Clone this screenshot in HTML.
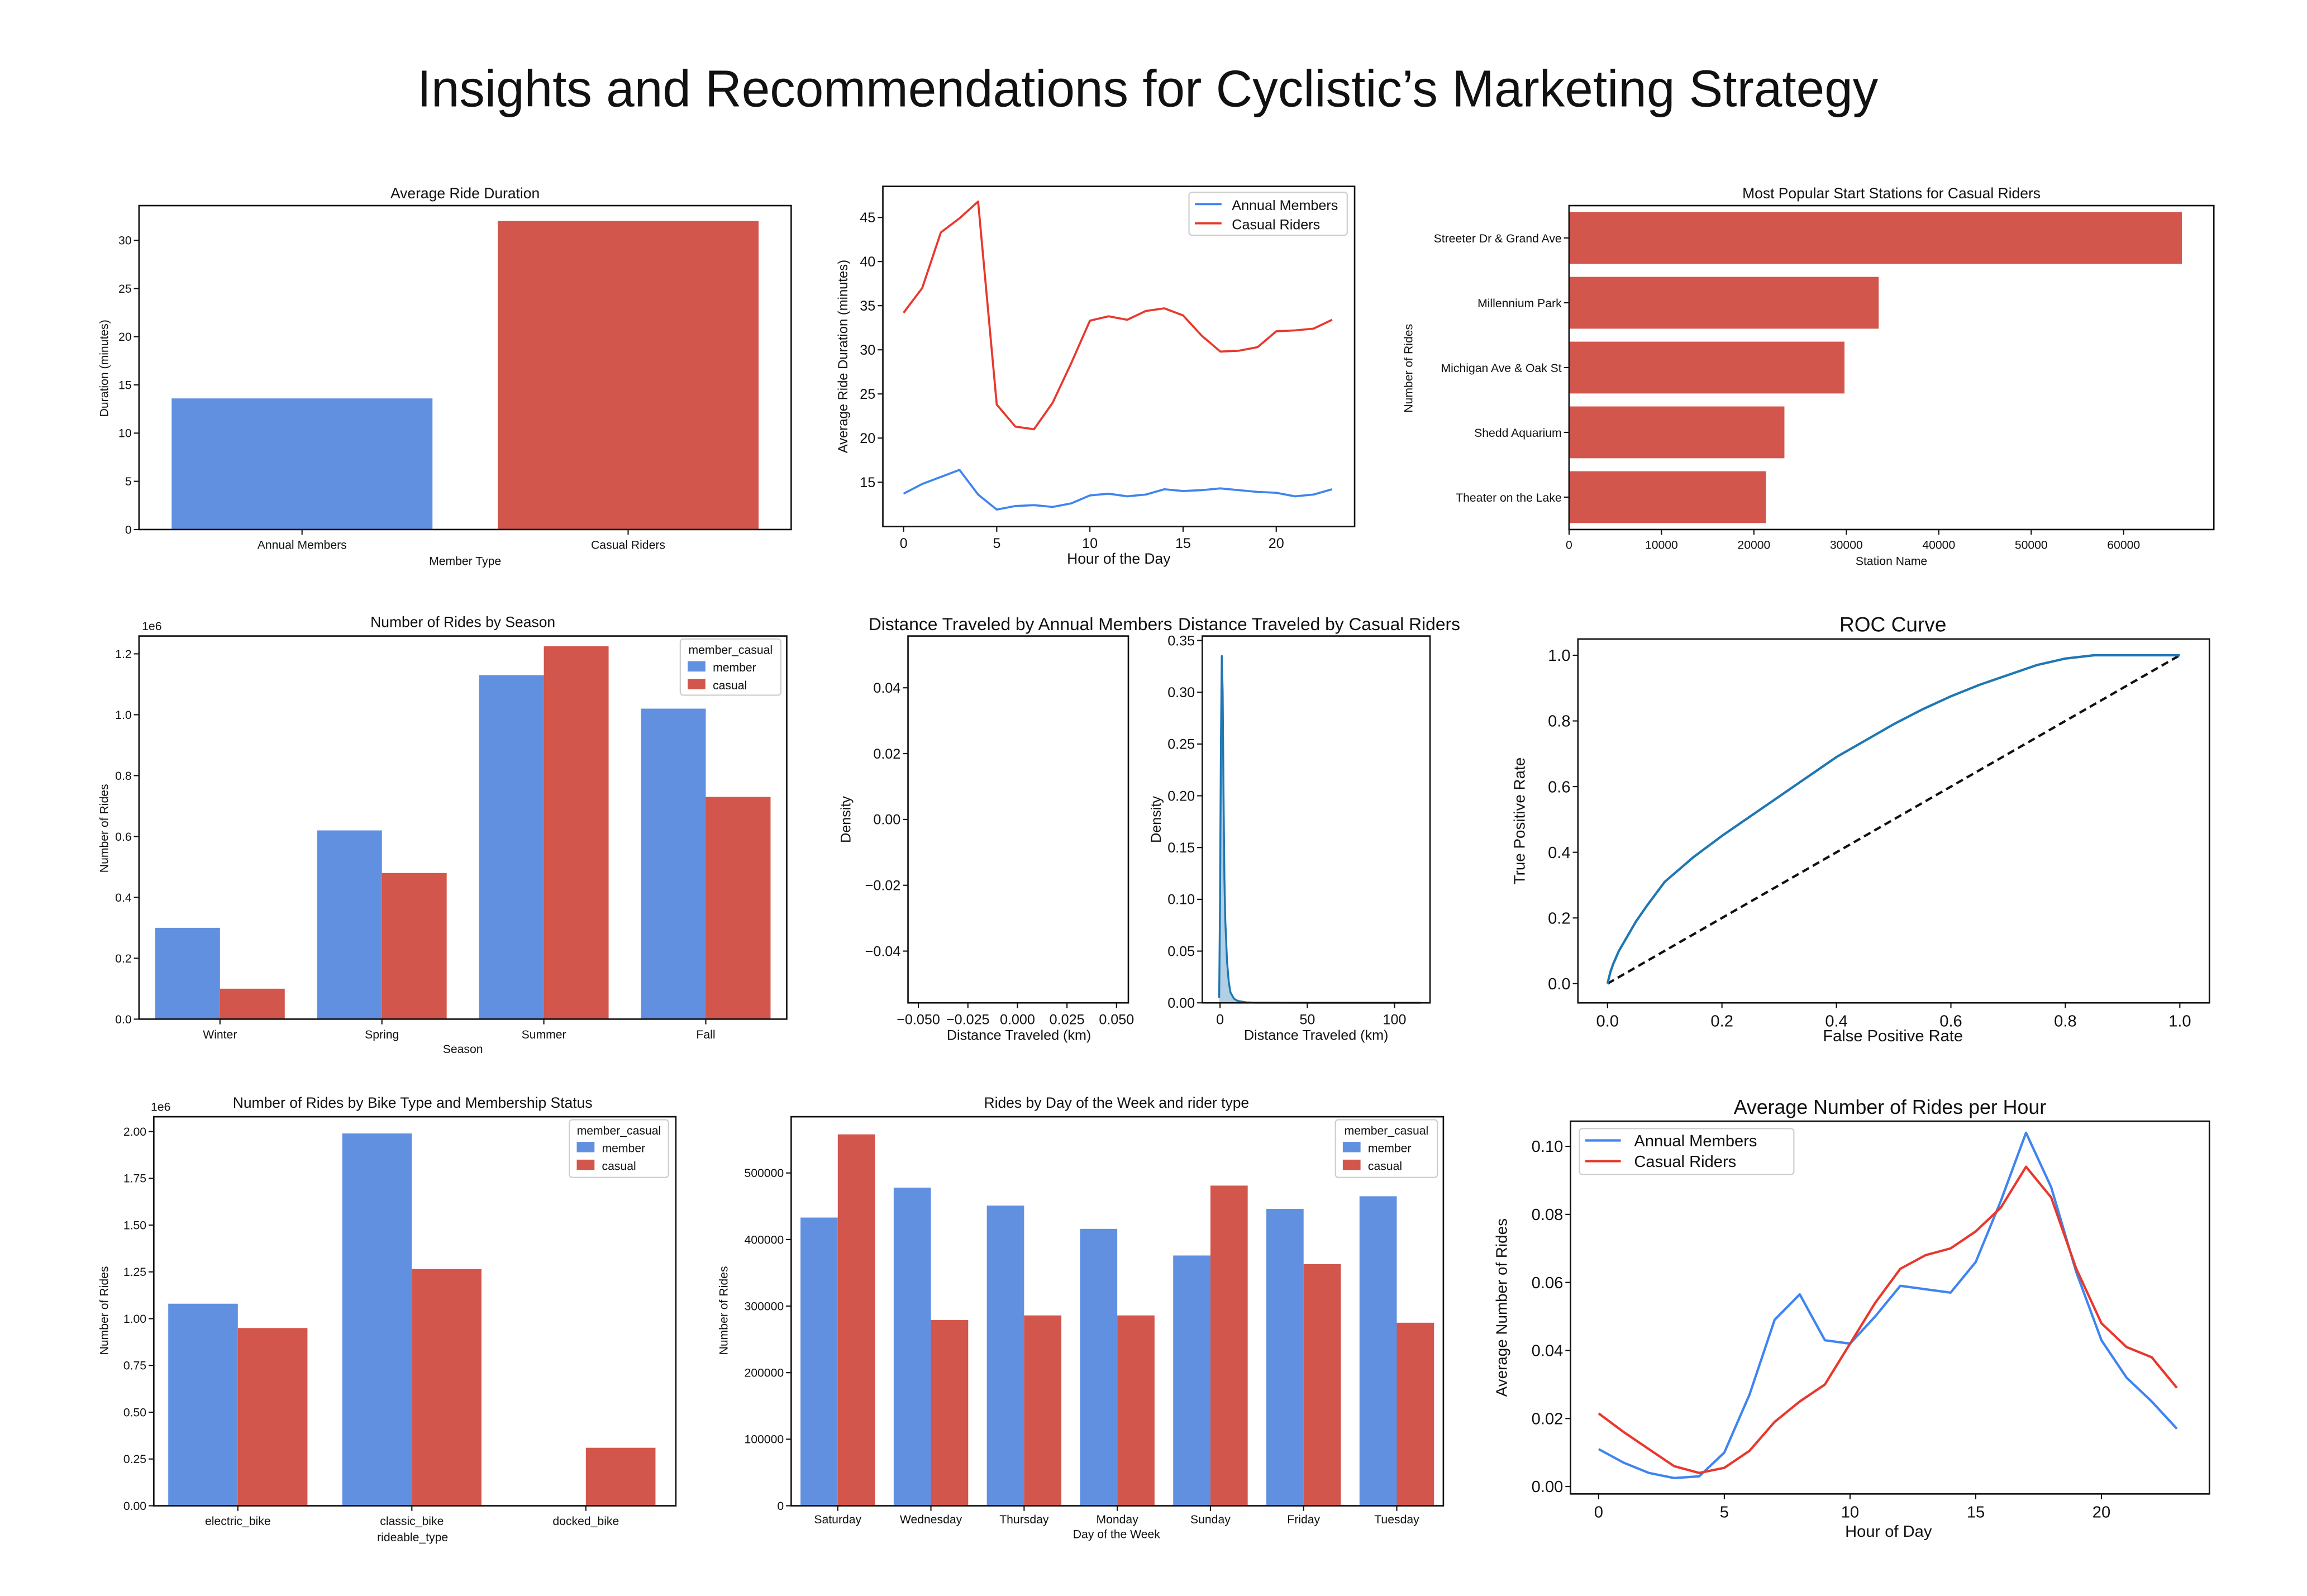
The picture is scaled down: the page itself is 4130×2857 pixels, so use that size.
<!DOCTYPE html>
<html><head><meta charset="utf-8">
<style>
html,body{margin:0;padding:0;background:#fff;}
svg{display:block;font-family:"Liberation Sans","DejaVu Sans",sans-serif;}
</style></head>
<body>
<svg id="root" xmlns="http://www.w3.org/2000/svg" width="4130" height="2857" viewBox="0 0 1560 1079" preserveAspectRatio="none">
<rect x="0" y="0" width="1560" height="1079" fill="#fff"/>
<text x="776" y="72" font-size="35" text-anchor="middle" textLength="988" lengthAdjust="spacingAndGlyphs" fill="#111">Insights and Recommendations for Cyclistic’s Marketing Strategy</text>
</svg>
<script>
// ---------- data ----------
const durCats = ["Annual Members", "Casual Riders"];
const durVals = [13.6, 32.0];

const hours = [0,1,2,3,4,5,6,7,8,9,10,11,12,13,14,15,16,17,18,19,20,21,22,23];
const durMember = [13.7,14.8,15.6,16.4,13.6,11.9,12.3,12.4,12.2,12.6,13.5,13.7,13.4,13.6,14.2,14.0,14.1,14.3,14.1,13.9,13.8,13.4,13.6,14.2];
const durCasual = [34.2,37.0,43.3,44.9,46.8,23.8,21.3,21.0,24.0,28.5,33.3,33.8,33.4,34.4,34.7,33.9,31.6,29.8,29.9,30.3,32.1,32.2,32.4,33.4];

const stations = ["Streeter Dr & Grand Ave","Millennium Park","Michigan Ave & Oak St","Shedd Aquarium","Theater on the Lake"];
const stationRides = [66300, 33500, 29800, 23300, 21300];

const seasons = ["Winter","Spring","Summer","Fall"];
const seasonMember = [0.30, 0.62, 1.13, 1.02];
const seasonCasual = [0.10, 0.48, 1.225, 0.73];

const kdeX = [-0.5,0,0.5,1,1.5,2,2.5,3,4,5,6,8,10,15,20,50,100,115];
const kdeY = [0.005,0.10,0.25,0.335,0.30,0.20,0.12,0.08,0.04,0.02,0.01,0.004,0.002,0.0005,0.0002,0.0001,0.0001,0.0001];

const rocFpr = [0,0.005,0.01,0.02,0.03,0.05,0.07,0.1,0.15,0.2,0.25,0.3,0.35,0.4,0.45,0.5,0.55,0.6,0.65,0.7,0.75,0.8,0.85,0.9,1.0];
const rocTpr = [0,0.035,0.06,0.10,0.13,0.19,0.24,0.31,0.385,0.45,0.51,0.57,0.63,0.69,0.74,0.79,0.835,0.875,0.91,0.94,0.97,0.99,1.0,1.0,1.0];

const bikeTypes = ["electric_bike","classic_bike","docked_bike"];
const bikeMember = [1.08, 1.99, 0];
const bikeCasual = [0.95, 1.265, 0.31];

const days = ["Saturday","Wednesday","Thursday","Monday","Sunday","Friday","Tuesday"];
const dayMember = [433000,478000,451000,416000,376000,446000,465000];
const dayCasual = [558000,279000,286000,286000,481000,363000,275000];

const ridesMember = [0.011,0.007,0.004,0.0025,0.003,0.010,0.027,0.049,0.0565,0.043,0.042,0.050,0.059,0.058,0.057,0.066,0.084,0.104,0.088,0.063,0.043,0.032,0.025,0.017];
const ridesCasual = [0.0215,0.016,0.011,0.006,0.004,0.0055,0.0105,0.019,0.025,0.030,0.042,0.054,0.064,0.068,0.070,0.075,0.082,0.094,0.085,0.064,0.048,0.041,0.038,0.029];

const durTicks = [0,5,10,15,20,25,30];
const hourTicks = [0,5,10,15,20];
const dur2Ticks = [15,20,25,30,35,40,45];
const stationTicks = [0,10000,20000,30000,40000,50000,60000];
const seasonTicks = [0,0.2,0.4,0.6,0.8,1.0,1.2];
const memYTicks = [-0.04,-0.02,0,0.02,0.04];
const memXTicks = [-0.05,-0.025,0,0.025,0.05];
const casYTicks = [0,0.05,0.1,0.15,0.2,0.25,0.3,0.35];
const casXTicks = [0,50,100];
const rocTicks = [0,0.2,0.4,0.6,0.8,1.0];
const bikeTicks = [0,0.25,0.5,0.75,1.0,1.25,1.5,1.75,2.0];
const dayTicks = [0,100000,200000,300000,400000,500000];
const rideTicks = [0,0.02,0.04,0.06,0.08,0.10];

// ---------- helpers ----------
const NS = "http://www.w3.org/2000/svg";
const root = document.getElementById("root");
const BLUE = "#6190e0", RED = "#d2564b";
function mk(tag, attrs, name, parent) {
  const el = document.createElementNS(NS, tag);
  for (const k in attrs) el.setAttribute(k, attrs[k]);
  
  
  (parent || root).appendChild(el);
  return el;
}
function txt(x, y, s, size, anchor, name, extra) {
  const t = mk("text", Object.assign({x: x, y: y, "font-size": size, "text-anchor": anchor || "middle", fill: "#111"}, extra || {}), name);
  t.textContent = s;
  return t;
}
function vtxt(x, y, s, size, name) {
  return txt(x, y, s, size, "middle", name, {transform: "rotate(-90 " + x + " " + y + ")"});
}
function lin(a, b, c, d) { return v => c + (v - a) * (d - c) / (b - a); }
function frame(x0, y0, x1, y1, name) {
  mk("rect", {x: x0, y: y0, width: x1 - x0, height: y1 - y0, fill: "none", stroke: "#111", "stroke-width": 1}, name);
}
function yTicks(ticks, sy, x0, size, fmt, name) {
  ticks.forEach(v => {
    const y = sy(v);
    mk("line", {x1: x0 - 3.5, x2: x0, y1: y, y2: y, stroke: "#111", "stroke-width": 0.8}, name + "-tick");
    txt(x0 - 5, y + size * 0.35, fmt(v), size, "end", name + "-label");
  });
}
function xTicks(ticks, sx, y0, size, fmt, name) {
  ticks.forEach(v => {
    const x = sx(v);
    mk("line", {x1: x, x2: x, y1: y0, y2: y0 + 3.5, stroke: "#111", "stroke-width": 0.8}, name + "-tick");
    txt(x, y0 + 5 + size, fmt(v), size, "middle", name + "-label");
  });
}
function poly(xs, ys, sx, sy, color, width, name, dash) {
  const d = xs.map((v, i) => (i ? "L" : "M") + sx(v).toFixed(2) + "," + sy(ys[i]).toFixed(2)).join(" ");
  const a = {d: d, fill: "none", stroke: color, "stroke-width": width, "stroke-linejoin": "round"};
  if (dash) a["stroke-dasharray"] = dash;
  return mk("path", a, name);
}
function legendHue(x, y, w, h, name) {
  mk("rect", {x: x, y: y, width: w, height: h, fill: "#fff", stroke: "#ccc", "stroke-width": 0.8, rx: 2}, name);
  txt(x + w / 2, y + 10, "member_casual", 8, "middle", name + "-title");
  mk("rect", {x: x + 5, y: y + 15, width: 12, height: 7, fill: BLUE}, name + "-member-swatch");
  txt(x + 22, y + 22, "member", 8, "start", name + "-member-label");
  mk("rect", {x: x + 5, y: y + 27, width: 12, height: 7, fill: RED}, name + "-casual-swatch");
  txt(x + 22, y + 34, "casual", 8, "start", name + "-casual-label");
}
const f0 = v => String(v);
const f1 = v => v.toFixed(1);
const f2 = v => v.toFixed(2);
const f3 = v => (v < 0 ? "\u2212" : "") + Math.abs(v).toFixed(3);
const f2m = v => (v < 0 ? "\u2212" : "") + Math.abs(v).toFixed(2);

// ---------- Chart 1 ----------
(function () {
  const X0 = 94, Y0 = 139, X1 = 535, Y1 = 358;
  const sy = lin(0, 33.6, Y1, Y0);
  const band = (X1 - X0) / durCats.length;
  const colors = [BLUE, RED];
  durCats.forEach((c, i) => {
    const cx = X0 + band * (i + 0.5);
    mk("rect", {x: cx - band * 0.4, y: sy(durVals[i]), width: band * 0.8, height: Y1 - sy(durVals[i]), fill: colors[i]}, "duration-bar-" + i);
    mk("line", {x1: cx, x2: cx, y1: Y1, y2: Y1 + 3.5, stroke: "#111", "stroke-width": 0.8}, "duration-x-tick");
    txt(cx, Y1 + 13, c, 8, "middle", "duration-x-label");
  });
  frame(X0, Y0, X1, Y1, "duration-axes");
  yTicks(durTicks, sy, X0, 8, f0, "duration-y");
  txt((X0 + X1) / 2, 134, "Average Ride Duration", 10, "middle", "duration-title");
  txt((X0 + X1) / 2, 382, "Member Type", 8, "middle", "duration-x-title");
  vtxt(73, 249, "Duration (minutes)", 8, "duration-y-title");
})();

// ---------- Chart 2 ----------
(function () {
  const X0 = 597, Y0 = 126, X1 = 916, Y1 = 356;
  const sx = lin(0, 20, 611, 863), sy = lin(15, 45, 326, 147);
  frame(X0, Y0, X1, Y1, "hourly-duration-axes");
  poly(hours, durMember, sx, sy, "#3f84f0", 1.4, "hourly-duration-members-line");
  poly(hours, durCasual, sx, sy, "#e8382d", 1.4, "hourly-duration-casual-line");
  yTicks(dur2Ticks, sy, X0, 9.5, f0, "hourly-duration-y");
  xTicks(hourTicks, sx, Y1, 9.5, f0, "hourly-duration-x");
  txt((X0 + X1) / 2, 381, "Hour of the Day", 10, "middle", "hourly-duration-x-title");
  vtxt(573, 241, "Average Ride Duration (minutes)", 9, "hourly-duration-y-title");
  mk("rect", {x: 804, y: 130, width: 107, height: 29, fill: "#fff", stroke: "#ccc", "stroke-width": 0.8, rx: 2}, "hourly-duration-legend");
  mk("line", {x1: 808, x2: 826, y1: 138, y2: 138, stroke: "#3f84f0", "stroke-width": 1.4}, "legend-members-line");
  txt(833, 142, "Annual Members", 9.5, "start", "legend-members-label");
  mk("line", {x1: 808, x2: 826, y1: 151, y2: 151, stroke: "#e8382d", "stroke-width": 1.4}, "legend-casual-line");
  txt(833, 155, "Casual Riders", 9.5, "start", "legend-casual-label");
})();

// ---------- Chart 3 ----------
(function () {
  const X0 = 1061, Y0 = 139, X1 = 1497, Y1 = 358;
  const sx = lin(0, 69760, X0, X1);
  const band = (Y1 - Y0) / stations.length;
  stations.forEach((s, i) => {
    const cy = Y0 + band * (i + 0.5);
    mk("rect", {x: X0, y: cy - band * 0.4, width: sx(stationRides[i]) - X0, height: band * 0.8, fill: RED}, "station-bar-" + i);
    mk("line", {x1: X0 - 3.5, x2: X0, y1: cy, y2: cy, stroke: "#111", "stroke-width": 0.8}, "station-y-tick");
    txt(X0 - 5, cy + 3, s, 8, "end", "station-y-label");
  });
  frame(X0, Y0, X1, Y1, "stations-axes");
  xTicks(stationTicks, sx, Y1, 8, f0, "stations-x");
  txt((X0 + X1) / 2, 134, "Most Popular Start Stations for Casual Riders", 10, "middle", "stations-title");
  txt(1279, 382, "Station Name", 8, "middle", "stations-x-title");
  vtxt(955, 249, "Number of Rides", 8, "stations-y-title");
})();

// ---------- Chart 4 ----------
(function () {
  const X0 = 94, Y0 = 430, X1 = 532, Y1 = 689;
  const sy = lin(0, 1.0, Y1, Y1 - 205.8);
  const band = (X1 - X0) / seasons.length;
  seasons.forEach((s, i) => {
    const cx = X0 + band * (i + 0.5);
    mk("rect", {x: cx - band * 0.4, y: sy(seasonMember[i]), width: band * 0.4, height: Y1 - sy(seasonMember[i]), fill: BLUE}, "season-member-bar-" + i);
    mk("rect", {x: cx, y: sy(seasonCasual[i]), width: band * 0.4, height: Y1 - sy(seasonCasual[i]), fill: RED}, "season-casual-bar-" + i);
    mk("line", {x1: cx, x2: cx, y1: Y1, y2: Y1 + 3.5, stroke: "#111", "stroke-width": 0.8}, "season-x-tick");
    txt(cx, Y1 + 13, s, 8, "middle", "season-x-label");
  });
  frame(X0, Y0, X1, Y1, "season-axes");
  yTicks(seasonTicks, sy, X0, 8, f1, "season-y");
  txt(96, 426, "1e6", 8, "start", "season-y-offset");
  txt(313, 424, "Number of Rides by Season", 10, "middle", "season-title");
  txt(313, 712, "Season", 8, "middle", "season-x-title");
  vtxt(73, 560, "Number of Rides", 8, "season-y-title");
  legendHue(460, 432, 68, 38, "season-legend");
})();

// ---------- Chart 5a ----------
(function () {
  const X0 = 614, Y0 = 430, X1 = 763, Y1 = 678;
  const sx = lin(0, 0.05, 688, 755), sy = lin(0, 0.04, 554, 465);
  frame(X0, Y0, X1, Y1, "distance-members-axes");
  yTicks(memYTicks, sy, X0, 9.5, f2m, "distance-members-y");
  xTicks(memXTicks, sx, Y1, 9.5, f3, "distance-members-x");
  txt(690, 426, "Distance Traveled by Annual Members", 12, "middle", "distance-members-title");
  txt(689, 703, "Distance Traveled (km)", 9.5, "middle", "distance-members-x-title");
  vtxt(575, 554, "Density", 9.5, "distance-members-y-title");
})();

// ---------- Chart 5b ----------
(function () {
  const X0 = 813, Y0 = 430, X1 = 967, Y1 = 678;
  const sx = lin(0, 50, 825, 884), sy = lin(0, 0.35, Y1, 433);
  const d = kdeX.map((v, i) => (i ? "L" : "M") + sx(v).toFixed(2) + "," + sy(kdeY[i]).toFixed(2)).join(" ")
    + " L" + sx(kdeX[kdeX.length - 1]).toFixed(2) + "," + Y1 + " L" + sx(kdeX[0]).toFixed(2) + "," + Y1 + " Z";
  mk("path", {d: d, fill: "#1f77b4", "fill-opacity": 0.35, stroke: "none"}, "distance-casual-kde-fill");
  poly(kdeX, kdeY, sx, sy, "#1f77b4", 1.3, "distance-casual-kde-line");
  frame(X0, Y0, X1, Y1, "distance-casual-axes");
  yTicks(casYTicks, sy, X0, 9.5, f2, "distance-casual-y");
  xTicks(casXTicks, sx, Y1, 9.5, f0, "distance-casual-x");
  txt(892, 426, "Distance Traveled by Casual Riders", 12, "middle", "distance-casual-title");
  txt(890, 703, "Distance Traveled (km)", 9.5, "middle", "distance-casual-x-title");
  vtxt(785, 554, "Density", 9.5, "distance-casual-y-title");
})();

// ---------- Chart 6 ----------
(function () {
  const X0 = 1067, Y0 = 432, X1 = 1494, Y1 = 678;
  const sx = lin(0, 1, 1087, 1474), sy = lin(0, 1, 665, 443);
  poly([0, 1], [0, 1], sx, sy, "#111", 1.6, "roc-baseline", "5,3");
  poly(rocFpr, rocTpr, sx, sy, "#1f77b4", 1.6, "roc-curve");
  frame(X0, Y0, X1, Y1, "roc-axes");
  yTicks(rocTicks, sy, X0, 11, f1, "roc-y");
  xTicks(rocTicks, sx, Y1, 11, f1, "roc-x");
  txt(1280, 427, "ROC Curve", 14, "middle", "roc-title");
  txt(1280, 704, "False Positive Rate", 11, "middle", "roc-x-title");
  vtxt(1031, 555, "True Positive Rate", 10.5, "roc-y-title");
})();

// ---------- Chart 7 ----------
(function () {
  const X0 = 104, Y0 = 755, X1 = 457, Y1 = 1018;
  const sy = lin(0, 1, Y1, Y1 - 126.5);
  const band = (X1 - X0) / bikeTypes.length;
  bikeTypes.forEach((s, i) => {
    const cx = X0 + band * (i + 0.5) - 2;
    if (bikeMember[i] > 0) mk("rect", {x: cx - band * 0.4, y: sy(bikeMember[i]), width: band * 0.4, height: Y1 - sy(bikeMember[i]), fill: BLUE}, "bike-member-bar-" + i);
    mk("rect", {x: cx, y: sy(bikeCasual[i]), width: band * 0.4, height: Y1 - sy(bikeCasual[i]), fill: RED}, "bike-casual-bar-" + i);
    mk("line", {x1: cx, x2: cx, y1: Y1, y2: Y1 + 3.5, stroke: "#111", "stroke-width": 0.8}, "bike-x-tick");
    txt(cx, Y1 + 13, s, 8, "middle", "bike-x-label");
  });
  frame(X0, Y0, X1, Y1, "bike-axes");
  yTicks(bikeTicks, sy, X0, 8, f2, "bike-y");
  txt(102, 751, "1e6", 8, "start", "bike-y-offset");
  txt(279, 749, "Number of Rides by Bike Type and Membership Status", 10, "middle", "bike-title");
  txt(279, 1042, "rideable_type", 8, "middle", "bike-x-title");
  vtxt(73, 886, "Number of Rides", 8, "bike-y-title");
  legendHue(385, 757, 67, 39, "bike-legend");
})();

// ---------- Chart 8 ----------
(function () {
  const X0 = 535, Y0 = 755, X1 = 976, Y1 = 1018;
  const sy = lin(0, 500000, Y1, 793);
  const band = (X1 - X0) / days.length;
  days.forEach((s, i) => {
    const cx = X0 + band * (i + 0.5);
    mk("rect", {x: cx - band * 0.4, y: sy(dayMember[i]), width: band * 0.4, height: Y1 - sy(dayMember[i]), fill: BLUE}, "day-member-bar-" + i);
    mk("rect", {x: cx, y: sy(dayCasual[i]), width: band * 0.4, height: Y1 - sy(dayCasual[i]), fill: RED}, "day-casual-bar-" + i);
    mk("line", {x1: cx, x2: cx, y1: Y1, y2: Y1 + 3.5, stroke: "#111", "stroke-width": 0.8}, "day-x-tick");
    txt(cx, Y1 + 12, s, 8, "middle", "day-x-label");
  });
  frame(X0, Y0, X1, Y1, "day-axes");
  yTicks(dayTicks, sy, X0, 8, f0, "day-y");
  txt(755, 749, "Rides by Day of the Week and rider type", 10, "middle", "day-title");
  txt(755, 1040, "Day of the Week", 8, "middle", "day-x-title");
  vtxt(492, 886, "Number of Rides", 8, "day-y-title");
  legendHue(903, 757, 69, 39, "day-legend");
})();

// ---------- Chart 9 ----------
(function () {
  const X0 = 1062, Y0 = 758, X1 = 1494, Y1 = 1010;
  const sx = lin(0, 20, 1081, 1421), sy = lin(0, 0.10, 1005, 775);
  frame(X0, Y0, X1, Y1, "rides-hour-axes");
  poly(hours, ridesMember, sx, sy, "#3f84f0", 1.6, "rides-hour-members-line");
  poly(hours, ridesCasual, sx, sy, "#e8382d", 1.6, "rides-hour-casual-line");
  yTicks(rideTicks, sy, X0, 11, f2, "rides-hour-y");
  xTicks(hourTicks, sx, Y1, 11, f0, "rides-hour-x");
  txt(1278, 753, "Average Number of Rides per Hour", 13.5, "middle", "rides-hour-title");
  txt(1277, 1039, "Hour of Day", 11, "middle", "rides-hour-x-title");
  vtxt(1019, 884, "Average Number of Rides", 10.5, "rides-hour-y-title");
  mk("rect", {x: 1068, y: 763, width: 145, height: 31, fill: "#fff", stroke: "#ccc", "stroke-width": 0.8, rx: 2}, "rides-hour-legend");
  mk("line", {x1: 1072, x2: 1096, y1: 771, y2: 771, stroke: "#3f84f0", "stroke-width": 1.6}, "rides-legend-members-line");
  txt(1105, 775, "Annual Members", 11, "start", "rides-legend-members-label");
  mk("line", {x1: 1072, x2: 1096, y1: 785, y2: 785, stroke: "#e8382d", "stroke-width": 1.6}, "rides-legend-casual-line");
  txt(1105, 789, "Casual Riders", 11, "start", "rides-legend-casual-label");
})();
</script>
</body></html>
